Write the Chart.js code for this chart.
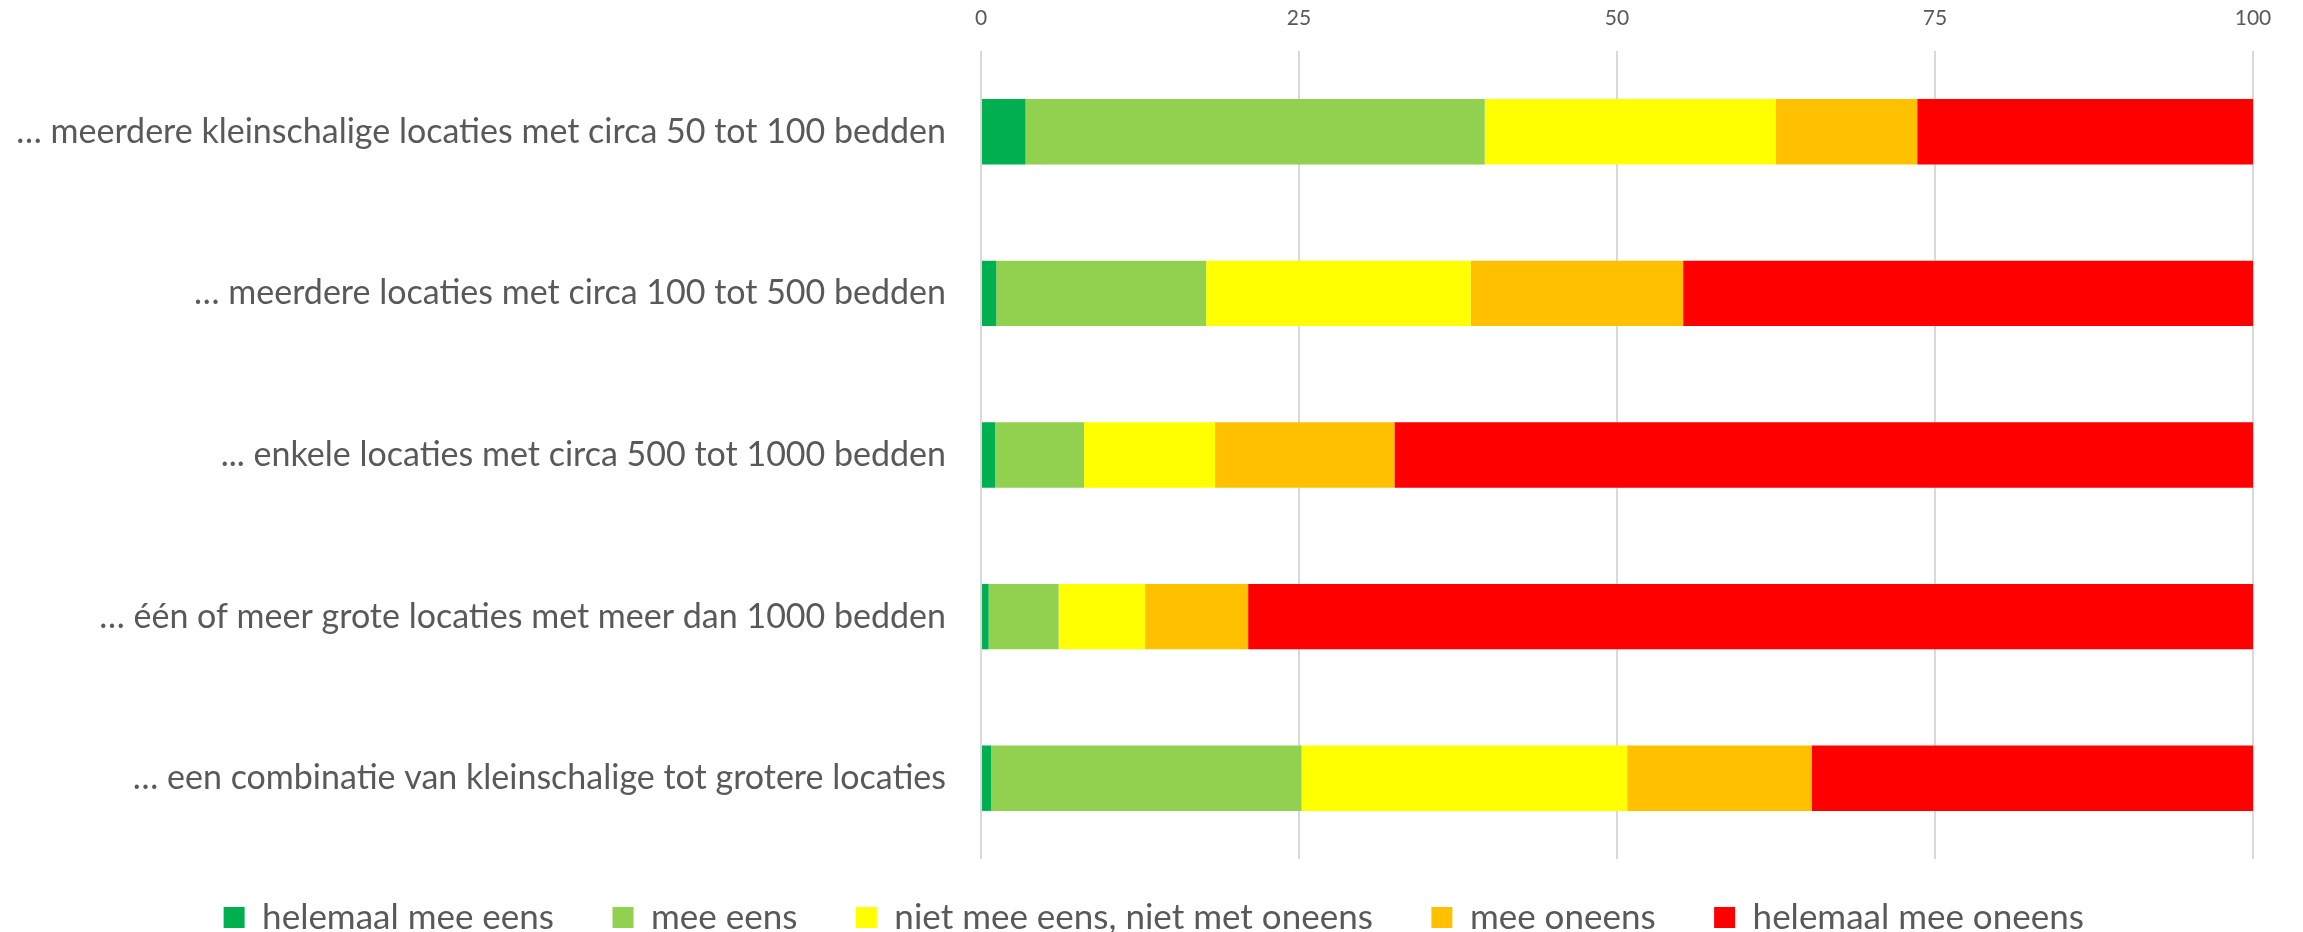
<!DOCTYPE html>
<html>
<head>
<meta charset="utf-8">
<script src="https://cdn.jsdelivr.net/npm/chart.js@4/dist/chart.umd.min.js"></script>
<style>
  html, body { margin: 0; padding: 0; background: #ffffff; }
  #wrap { width: 2303px; height: 932px; }
</style>
</head>
<body>
<div id="wrap"><canvas id="stackChart" width="2303" height="932"></canvas></div>
<script>
// categorieën (y-as)
const categories = [
    '… meerdere kleinschalige locaties met circa 50 tot 100 bedden',
    '… meerdere locaties met circa 100 tot 500 bedden',
    '... enkele locaties met circa 500 tot 1000 bedden',
    '… één of meer grote locaties met meer dan 1000 bedden',
    '… een combinatie van kleinschalige tot grotere locaties'
];

// antwoordcategorieën (legenda)
const seriesNames = ['helemaal mee eens', 'mee eens', 'niet mee eens, niet met oneens', 'mee oneens', 'helemaal mee oneens'];
const seriesColors = ['#00B050', '#92D050', '#FFFF00', '#FFC000', '#FF0000'];

// percentages per serie
const helemaalMeeEens = [3.5, 1.2, 1.1, 0.6, 0.8];
const meeEens = [36.1, 16.5, 7.0, 5.5, 24.4];
const neutraal = [22.9, 20.8, 10.3, 6.8, 25.6];
const meeOneens = [11.1, 16.7, 14.1, 8.1, 14.5];
const helemaalMeeOneens = [26.4, 44.8, 67.5, 79.0, 34.7];

// x-as labels
const xTicks = [0, 25, 50, 75, 100];

const seriesValues = [helemaalMeeEens, meeEens, neutraal, meeOneens, helemaalMeeOneens];

const labelFont = { family: 'Lato', size: 34 };
const textColor = '#595959';

document.addEventListener('DOMContentLoaded', function() {
    const ctx = document.getElementById('stackChart').getContext('2d');

    new Chart(ctx, {
        type: 'bar',
        data: {
            labels: categories,
            datasets: seriesNames.map((name, i) => ({
                label: name,
                data: seriesValues[i],
                backgroundColor: seriesColors[i],
                borderWidth: 0,
                barPercentage: 0.405,
                categoryPercentage: 1.0
            }))
        },
        options: {
            indexAxis: 'y',
            responsive: false,
            animation: false,
            devicePixelRatio: 1,
            // rechts negatief + lege as rechts: zo schuift de legenda naar het midden
            layout: { padding: { left: 8, right: -14, top: 0, bottom: 0 } },
            plugins: {
                legend: {
                    position: 'bottom',
                    maxHeight: 73,
                    labels: {
                        font: { family: 'Lato', size: 35 },
                        color: textColor,
                        boxWidth: 21,
                        boxHeight: 21,
                        padding: 41,
                        // iets meer ruimte tussen de items, zonder de hoogte te vergroten
                        generateLabels: function(chart) {
                            const items = Chart.defaults.plugins.legend.labels.generateLabels(chart);
                            items.forEach(item => { item.text = item.text + '\u2002'; });
                            return items;
                        }
                    }
                },
                tooltip: { enabled: false }
            },
            scales: {
                x: {
                    position: 'top',
                    stacked: true,
                    min: 0,
                    max: 100,
                    afterBuildTicks: function(scale) {
                        scale.ticks = xTicks.map(v => ({ value: v }));
                    },
                    afterFit: function(scale) { scale.height = 51; },
                    ticks: {
                        font: { family: 'Lato', size: 21 },
                        color: textColor,
                        padding: 20
                    },
                    grid: {
                        color: '#d9d9d9',
                        lineWidth: 2,
                        drawTicks: false
                    },
                    border: { display: false }
                },
                y: {
                    stacked: true,
                    afterFit: function(scale) { scale.width = 981 - 8; },
                    ticks: {
                        font: labelFont,
                        color: textColor,
                        padding: 27
                    },
                    grid: { display: false },
                    border: { display: false }
                },
                // lege as rechts voor de witruimte naast het plotgebied
                yRight: {
                    type: 'linear',
                    axis: 'y',
                    position: 'right',
                    afterFit: function(scale) { scale.width = 64; },
                    ticks: { display: false },
                    grid: { display: false },
                    border: { display: false }
                }
            }
        }
    });
});
</script>
</body>
</html>
